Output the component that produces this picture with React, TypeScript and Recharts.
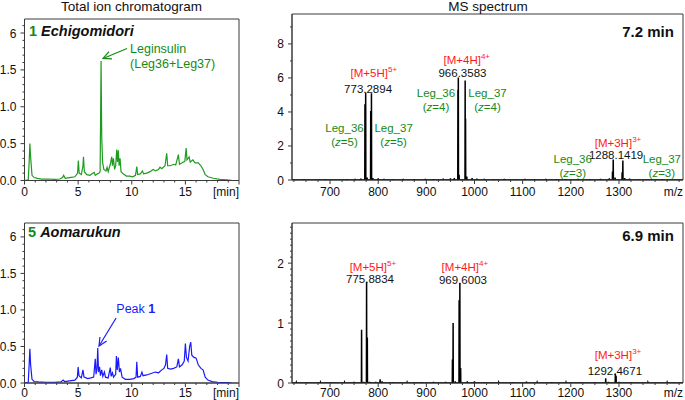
import React from 'react';
import { LineChart, Line, XAxis, YAxis, ReferenceArea, ReferenceDot, ReferenceLine } from 'recharts';

const FONT = '"Liberation Sans", Arial, Helvetica, sans-serif';
const AXIS = '#3a3a3a';
const GREEN_LINE = '#1f9b1f';
const GREEN_TEXT = '#168a16';
const BLUE = '#1a1aff';
const RED = '#ff1a1a';
const INK = '#111';

// ---------- Total ion chromatograms: [time (min), intensity] ----------
const ticEchigomidori: [number, number][] = [
  [0, 0], [0.35, 0.01], [0.45, 0.3], [0.5, 0.5], [0.58, 0.3], [0.7, 0.07], [0.9, 0.04], [1.2, 0.03],
  [1.6, 0.02], [2.2, 0.02], [2.8, 0.015], [3.3, 0.02], [3.55, 0.04], [3.65, 0.07], [3.8, 0.03],
  [4.2, 0.04], [4.7, 0.05], [4.95, 0.1], [5.02, 0.27], [5.1, 0.1], [5.3, 0.08], [5.45, 0.2],
  [5.5, 0.32], [5.58, 0.12], [5.8, 0.08], [6.1, 0.07], [6.3, 0.09], [6.5, 0.11], [6.6, 0.07],
  [6.8, 0.09], [6.95, 0.1], [7.05, 0.12], [7.14, 1.62], [7.2, 0.6], [7.28, 0.25], [7.4, 0.15],
  [7.6, 0.13], [7.7, 0.18], [7.8, 0.12], [8.0, 0.22], [8.13, 0.32], [8.2, 0.2], [8.29, 0.3],
  [8.4, 0.15], [8.5, 0.2], [8.6, 0.42], [8.67, 0.25], [8.75, 0.41], [8.82, 0.2], [8.91, 0.3],
  [9.0, 0.12], [9.2, 0.09], [9.5, 0.06], [9.8, 0.06], [10.1, 0.05], [10.35, 0.07], [10.47, 0.19],
  [10.55, 0.08], [10.8, 0.09], [11.0, 0.13], [11.1, 0.09], [11.4, 0.1], [11.7, 0.12], [12.0, 0.15],
  [12.2, 0.13], [12.5, 0.15], [12.64, 0.18], [12.8, 0.16], [13.1, 0.2], [13.26, 0.37], [13.35, 0.2],
  [13.6, 0.2], [13.9, 0.22], [14.1, 0.21], [14.35, 0.35], [14.45, 0.22], [14.7, 0.24], [14.95, 0.26],
  [15.07, 0.44], [15.15, 0.28], [15.35, 0.32], [15.45, 0.25], [15.7, 0.28], [15.9, 0.24], [16.2, 0.24],
  [16.45, 0.2], [16.65, 0.15], [16.85, 0.08], [17.1, 0.05], [17.6, 0.03], [18.2, 0.015], [18.9, 0.01],
  [19.4, 0],
];

const ticAomarukun: [number, number][] = [
  [0, 0], [0.35, 0.01], [0.45, 0.3], [0.5, 0.47], [0.57, 0.25], [0.7, 0.05], [0.9, 0.02], [1.3, 0.015],
  [2.0, 0.01], [2.8, 0.01], [3.4, 0.015], [3.6, 0.04], [3.75, 0.02], [4.2, 0.03], [4.7, 0.04],
  [4.93, 0.08], [5.0, 0.22], [5.08, 0.1], [5.3, 0.07], [5.45, 0.18], [5.55, 0.08], [5.9, 0.06],
  [6.2, 0.07], [6.45, 0.08], [6.6, 0.33], [6.67, 0.12], [6.76, 0.2], [6.83, 0.48], [6.9, 0.15],
  [7.0, 0.22], [7.08, 0.1], [7.2, 0.18], [7.3, 0.09], [7.45, 0.15], [7.55, 0.08], [7.8, 0.07],
  [8.0, 0.21], [8.08, 0.09], [8.2, 0.14], [8.3, 0.08], [8.5, 0.12], [8.57, 0.37], [8.65, 0.18],
  [8.75, 0.35], [8.85, 0.15], [8.95, 0.2], [9.1, 0.08], [9.4, 0.05], [9.8, 0.05], [10.2, 0.06],
  [10.4, 0.08], [10.47, 0.29], [10.55, 0.08], [10.8, 0.09], [10.95, 0.15], [11.05, 0.1], [11.4, 0.11],
  [11.8, 0.13], [12.2, 0.15], [12.5, 0.14], [12.8, 0.18], [13.0, 0.2], [13.15, 0.25], [13.26, 0.39],
  [13.35, 0.2], [13.6, 0.19], [13.9, 0.2], [14.2, 0.22], [14.35, 0.33], [14.45, 0.22], [14.7, 0.25],
  [14.9, 0.3], [15.0, 0.54], [15.1, 0.35], [15.25, 0.3], [15.4, 0.5], [15.5, 0.56], [15.6, 0.38],
  [15.8, 0.35], [16.0, 0.34], [16.2, 0.25], [16.45, 0.2], [16.65, 0.18], [16.85, 0.08], [17.1, 0.04],
  [17.5, 0.02], [18.0, 0.01], [18.8, 0.005], [19.3, 0],
];

const ticXMajor = [0, 5, 10, 15, 20];
const ticXLabels = ['0', '5', '10', '15', '[min]'];
const ticXMinor = [1, 2, 3, 4, 6, 7, 8, 9, 11, 12, 13, 14, 16, 17, 18, 19];
const ticYMajor = [0, 0.5, 1.0, 1.5, 2.0];
const ticYLabels = ['0.0', '0.5', '1.0', '1.5', '6'];
const ticYMinor = [0.1, 0.2, 0.3, 0.4, 0.6, 0.7, 0.8, 0.9, 1.1, 1.2, 1.3, 1.4, 1.6, 1.7, 1.8, 1.9, 2.1];

// ---------- MS spectra: m/z and intensity ----------
const msTopMz = [628, 645, 668, 690, 712, 735, 752, 764, 772.5, 774.0, 777, 784.5, 786.0, 789, 800, 812, 830, 852, 875, 898, 915, 935, 950, 958, 965.6, 966.4, 968, 980.6, 981.4, 984, 995, 1005, 1020, 1040, 1062, 1085, 1105, 1125, 1148, 1170, 1190, 1215, 1240, 1262, 1280, 1286.6, 1288.1, 1292, 1306.6, 1308.1, 1312, 1322, 1340, 1365, 1390, 1415];
const msTopInt = [0.04, 0.05, 0.04, 0.05, 0.04, 0.05, 0.06, 0.08, 4.45, 5.15, 0.15, 4.05, 5.1, 0.12, 0.1, 0.06, 0.05, 0.06, 0.05, 0.07, 0.05, 0.08, 0.1, 0.12, 5.3, 6.02, 0.3, 5.85, 3.6, 0.2, 0.12, 0.08, 0.06, 0.05, 0.06, 0.05, 0.06, 0.05, 0.06, 0.05, 0.05, 0.06, 0.05, 0.07, 0.1, 0.5, 1.2, 0.15, 0.45, 1.15, 0.12, 0.08, 0.05, 0.04, 0.05, 0.04];

const msBottomMz = [630, 655, 680, 705, 730, 750, 765.5, 770, 775.9, 777.4, 782, 795, 804, 808, 830, 860, 890, 915, 940, 954.2, 955.6, 960, 968.1, 969.6, 971.2, 985, 1000, 1020, 1050, 1080, 1108, 1130, 1160, 1190, 1220, 1250, 1272.5, 1278, 1292.5, 1294, 1300, 1325, 1360, 1400];
const msBottomInt = [0.01, 0.015, 0.01, 0.015, 0.01, 0.02, 0.89, 0.02, 1.69, 0.76, 0.02, 0.02, 0.06, 0.03, 0.015, 0.01, 0.015, 0.02, 0.02, 0.39, 1.0, 0.03, 1.38, 1.67, 0.25, 0.03, 0.03, 0.015, 0.01, 0.015, 0.025, 0.01, 0.015, 0.01, 0.015, 0.015, 0.08, 0.02, 0.16, 0.12, 0.02, 0.015, 0.01, 0.01];

const msXMajor = [700, 800, 900, 1000, 1100, 1200, 1300];
const msXLabels = ['700', '800', '900', '1000', '1100', '1200', '1300'];
const msXMinor = [625, 650, 675, 725, 750, 775, 825, 850, 875, 925, 950, 975, 1025, 1050, 1075, 1125, 1150, 1175, 1225, 1250, 1275, 1325, 1350, 1375, 1400, 1425];
const msTopYMajor = [0, 2, 4, 6, 8];
const msTopYLabels = ['0', '2', '4', '6', '8'];
const msTopYMinor = [1, 3, 5, 7, 9];
const msBottomYMajor = [0, 1, 2];
const msBottomYLabels = ['0', '1', '2'];
const msBottomYMinor = [0.1, 0.2, 0.3, 0.4, 0.5, 0.6, 0.7, 0.8, 0.9, 1.1, 1.2, 1.3, 1.4, 1.5, 1.6, 1.7, 1.8, 1.9, 2.1, 2.2, 2.3, 2.4, 2.5, 2.6];

// ---------- annotations (anchored in data coordinates) ----------
const msTopIons = [
  { label: '[M+5H]', charge: '5+', mz: 791, y: 6.06 },
  { label: '[M+4H]', charge: '4+', mz: 984, y: 6.82 },
  { label: '[M+3H]', charge: '3+', mz: 1298, y: 1.96 },
];
const msTopMasses = [
  { text: '773.2894', mz: 779, y: 5.12 },
  { text: '966.3583', mz: 975, y: 6.06 },
  { text: '1288.1419', mz: 1294, y: 1.22 },
];
const msTopLegs = [
  { name: 'Leg_36', z: '5', mz: 730, y: 2.84 },
  { name: 'Leg_37', z: '5', mz: 832, y: 2.84 },
  { name: 'Leg_36', z: '4', mz: 920, y: 4.9 },
  { name: 'Leg_37', z: '4', mz: 1027, y: 4.9 },
  { name: 'Leg_36', z: '3', mz: 1204, y: 1.02 },
  { name: 'Leg_37', z: '3', mz: 1389, y: 1.02 },
];
const msBottomIons = [
  { label: '[M+5H]', charge: '5+', mz: 789, y: 1.87 },
  { label: '[M+4H]', charge: '4+', mz: 980, y: 1.87 },
  { label: '[M+3H]', charge: '3+', mz: 1298, y: 0.395 },
];
const msBottomMasses = [
  { text: '775.8834', mz: 783, y: 1.67 },
  { text: '969.6003', mz: 976, y: 1.645 },
  { text: '1292.4671', mz: 1291.5, y: 0.133 },
];

const MS_DOMAIN: [number, number] = [621, 1433];

function stickData(mz: number[], inten: number[]) {
  const pts: { mz: number; y: number }[] = [{ mz: MS_DOMAIN[0], y: 0 }];
  mz.forEach((m, i) => {
    pts.push({ mz: m - 0.35, y: 0 }, { mz: m, y: inten[i] }, { mz: m + 0.35, y: 0 });
  });
  pts.push({ mz: MS_DOMAIN[1], y: 0 });
  return pts;
}

const near = (a: number, b: number) => Math.abs(a - b) < 1e-6;
const TICK_FONT = 12;

function makeXTick(majors: number[], labels: string[], dy: number, unit?: { at: number; text: string }) {
  return (props: any) => {
    const { x, y, payload } = props;
    const v = payload.value;
    if (unit && near(v, unit.at) && majors.findIndex((m) => near(m, v)) < 0) {
      return (
        <text x={x} y={y + dy} textAnchor="end" fontSize={TICK_FONT} fontFamily={FONT} fill={INK}>
          {unit.text}
        </text>
      );
    }
    const idx = majors.findIndex((m) => near(m, v));
    const major = idx >= 0;
    const isLast = major && idx === majors.length - 1 && isNaN(Number(labels[idx]));
    return (
      <g>
        <line x1={x} x2={x} y1={y} y2={y + (major ? 4 : 2)} stroke={AXIS} strokeWidth={1} />
        {major && (
          <text x={x} y={y + dy} textAnchor={isLast ? 'end' : 'middle'} fontSize={TICK_FONT} fontFamily={FONT} fill={INK}>
            {labels[idx]}
          </text>
        )}
      </g>
    );
  };
}

function makeYTick(majors: number[], labels: string[]) {
  return (props: any) => {
    const { x, y, payload } = props;
    const idx = majors.findIndex((m) => near(m, payload.value));
    const major = idx >= 0;
    return (
      <g>
        <line x1={x} x2={x - (major ? 4 : 2)} y1={y} y2={y} stroke={AXIS} strokeWidth={1} />
        {major && (
          <text x={x - 8} y={y + 4.5} textAnchor="end" fontSize={TICK_FONT} fontFamily={FONT} fill={INK}>
            {labels[idx]}
          </text>
        )}
      </g>
    );
  };
}

function note(key: string, x: number, y: number, draw: (cx: number, cy: number) => React.ReactElement) {
  return (
    <ReferenceDot key={key} x={x} y={y} r={1} ifOverflow="visible" shape={(p: any) => draw(p.cx, p.cy)} />
  );
}

function arrow(key: string, from: { x: number; y: number }, to: { x: number; y: number }, color: string) {
  return (
    <ReferenceLine
      key={key}
      segment={[from, to]}
      ifOverflow="visible"
      stroke={color}
      strokeWidth={1.2}
      shape={(p: any) => {
        const { x1, y1, x2, y2 } = p;
        const a = Math.atan2(y2 - y1, x2 - x1);
        const L = 9;
        const w = 0.45;
        const ax = x2 - L * Math.cos(a - w);
        const ay = y2 - L * Math.sin(a - w);
        const bx = x2 - L * Math.cos(a + w);
        const by = y2 - L * Math.sin(a + w);
        return (
          <g>
            <line x1={x1} y1={y1} x2={x2} y2={y2} stroke={color} strokeWidth={1.2} />
            <path d={`M${ax},${ay} L${x2},${y2} L${bx},${by}`} fill="none" stroke={color} strokeWidth={1.2} />
          </g>
        );
      }}
    />
  );
}

const textBase = { fontFamily: FONT } as const;

function ionNote(key: string, n: { label: string; charge: string; mz: number; y: number }) {
  return note(key, n.mz, n.y, (cx, cy) => (
    <text x={cx} y={cy} textAnchor="middle" fontSize={11.5} fill={RED} {...textBase}>
      {n.label}
      <tspan fontSize={8} dy={-5}>{n.charge}</tspan>
    </text>
  ));
}
function massNote(key: string, n: { text: string; mz: number; y: number }) {
  return note(key, n.mz, n.y, (cx, cy) => (
    <text x={cx} y={cy} textAnchor="middle" fontSize={11.5} fill={INK} {...textBase}>
      {n.text}
    </text>
  ));
}
function legNote(key: string, n: { name: string; z: string; mz: number; y: number }) {
  return note(key, n.mz, n.y, (cx, cy) => (
    <g>
      <text x={cx} y={cy} textAnchor="middle" fontSize={11.5} fill={GREEN_TEXT} {...textBase}>
        {n.name}
      </text>
      <text x={cx} y={cy + 14.5} textAnchor="middle" fontSize={11.5} fill={GREEN_TEXT} {...textBase}>
        (<tspan fontStyle="italic">z</tspan>={n.z})
      </text>
    </g>
  ));
}

const ticData1 = ticEchigomidori.map(([t, v]) => ({ t, v }));
const ticData5 = ticAomarukun.map(([t, v]) => ({ t, v }));
const msData1 = stickData(msTopMz, msTopInt);
const msData5 = stickData(msBottomMz, msBottomInt);

const TIC_YMAX = 2.19;

function TicPanel(props: {
  data: { t: number; v: number }[];
  color: string;
  top: number;
  axisH: number;
  dy: number;
  extra: React.ReactNode[];
}) {
  const { data, color, top, axisH, dy, extra } = props;
  return (
    <LineChart width={250} height={200} data={data} margin={{ top, right: 11, bottom: 0, left: 0 }} style={{ overflow: 'visible' }}>
      <XAxis
        dataKey="t"
        type="number"
        domain={[0, 20]}
        allowDataOverflow
        ticks={[...ticXMajor, ...ticXMinor]}
        interval={0}
        tickSize={0}
        tickMargin={0}
        tickLine={false}
        tick={makeXTick(ticXMajor, ticXLabels, dy)}
        height={axisH}
        stroke={AXIS}
      />
      <YAxis
        type="number"
        domain={[0, TIC_YMAX]}
        allowDataOverflow
        ticks={[...ticYMajor, ...ticYMinor]}
        interval={0}
        tickSize={0}
        tickMargin={0}
        tickLine={false}
        tick={makeYTick(ticYMajor, ticYLabels)}
        width={24.5}
        stroke={AXIS}
      />
      <ReferenceArea x1={0} x2={20} y1={0} y2={TIC_YMAX} fill="none" stroke={AXIS} strokeWidth={1} ifOverflow="visible" />
      <Line dataKey="v" type="linear" stroke={color} strokeWidth={1.2} dot={false} isAnimationActive={false} />
      {extra}
    </LineChart>
  );
}

function MsPanel(props: {
  data: { mz: number; y: number }[];
  top: number;
  axisH: number;
  dy: number;
  ymax: number;
  yMajor: number[];
  yLabels: string[];
  yMinor: number[];
  extra: React.ReactNode[];
}) {
  const { data, top, axisH, dy, ymax, yMajor, yLabels, yMinor, extra } = props;
  return (
    <LineChart width={435} height={200} data={data} margin={{ top, right: 2, bottom: 0, left: 0 }} style={{ overflow: 'visible' }}>
      <XAxis
        dataKey="mz"
        type="number"
        domain={MS_DOMAIN}
        allowDataOverflow
        ticks={[...msXMajor, ...msXMinor, MS_DOMAIN[1]]}
        interval={0}
        tickSize={0}
        tickMargin={0}
        tickLine={false}
        tick={makeXTick(msXMajor, msXLabels, dy, { at: MS_DOMAIN[1], text: 'm/z' })}
        height={axisH}
        stroke={AXIS}
      />
      <YAxis
        type="number"
        domain={[0, ymax]}
        allowDataOverflow
        ticks={[...yMajor, ...yMinor]}
        interval={0}
        tickSize={0}
        tickMargin={0}
        tickLine={false}
        tick={makeYTick(yMajor, yLabels)}
        width={42}
        stroke={AXIS}
      />
      <ReferenceArea x1={MS_DOMAIN[0]} x2={MS_DOMAIN[1]} y1={0} y2={ymax} fill="none" stroke={AXIS} strokeWidth={1} ifOverflow="visible" />
      <Line dataKey="y" type="linear" stroke="#000" strokeWidth={1.5} dot={false} isAnimationActive={false} />
      {extra}
    </LineChart>
  );
}

export default function App() {
  const ticTopExtra = [
    note('lab1', 0.42, 1.966, (cx, cy) => (
      <text x={cx} y={cy} fontSize={14.5} fontWeight="bold" fill={INK} {...textBase}>
        <tspan fill={GREEN_TEXT}>1</tspan> <tspan fontStyle="italic">Echigomidori</tspan>
      </text>
    )),
    note('legins', 9.84, 1.723, (cx, cy) => (
      <g>
        <text x={cx} y={cy} fontSize={12.5} fill={GREEN_TEXT} {...textBase}>Leginsulin</text>
        <text x={cx} y={cy + 15} fontSize={12.5} fill={GREEN_TEXT} {...textBase}>(Leg36+Leg37)</text>
      </g>
    )),
    arrow('arr1', { x: 9.56, y: 1.79 }, { x: 7.32, y: 1.655 }, GREEN_TEXT),
  ];
  const ticBottomExtra = [
    note('lab5', 0.33, 2.0, (cx, cy) => (
      <text x={cx} y={cy} fontSize={14.5} fontWeight="bold" fill={INK} {...textBase}>
        <tspan fill={GREEN_TEXT}>5</tspan> <tspan fontStyle="italic">Aomarukun</tspan>
      </text>
    )),
    note('peak1', 8.56, 0.955, (cx, cy) => (
      <text x={cx} y={cy} fontSize={12.5} fill={BLUE} {...textBase}>
        Peak <tspan fontWeight="bold">1</tspan>
      </text>
    )),
    arrow('arr5', { x: 8.54, y: 0.89 }, { x: 6.95, y: 0.507 }, BLUE),
  ];
  const msTopExtra = [
    note('t72', 1414, 8.41, (cx, cy) => (
      <text x={cx} y={cy} textAnchor="end" fontSize={15} fontWeight="bold" fill={INK} {...textBase}>7.2 min</text>
    )),
    ...msTopIons.map((n, i) => ionNote('ti' + i, n)),
    ...msTopMasses.map((n, i) => massNote('tm' + i, n)),
    ...msTopLegs.map((n, i) => legNote('tl' + i, n)),
  ];
  const msBottomExtra = [
    note('t69', 1414, 2.37, (cx, cy) => (
      <text x={cx} y={cy} textAnchor="end" fontSize={15} fontWeight="bold" fill={INK} {...textBase}>6.9 min</text>
    )),
    ...msBottomIons.map((n, i) => ionNote('bi' + i, n)),
    ...msBottomMasses.map((n, i) => massNote('bm' + i, n)),
  ];

  return (
    <div style={{ position: 'absolute', left: 0, top: 0, width: 685, height: 400, background: '#fff', overflow: 'hidden' }}>
      <div style={{ position: 'absolute', left: 0, top: 0 }}>
        <TicPanel data={ticData1} color={GREEN_LINE} top={19} axisH={19.5} dy={15.5} extra={ticTopExtra} />
      </div>
      <div style={{ position: 'absolute', left: 0, top: 200 }}>
        <TicPanel data={ticData5} color={BLUE} top={23} axisH={17} dy={14} extra={ticBottomExtra} />
      </div>
      <div style={{ position: 'absolute', left: 250, top: 0 }}>
        <MsPanel data={msData1} top={14} axisH={20} dy={15.5} ymax={9.76} yMajor={msTopYMajor} yLabels={msTopYLabels} yMinor={msTopYMinor} extra={msTopExtra} />
      </div>
      <div style={{ position: 'absolute', left: 250, top: 200 }}>
        <MsPanel data={msData5} top={23} axisH={17} dy={14} ymax={2.67} yMajor={msBottomYMajor} yLabels={msBottomYLabels} yMinor={msBottomYMinor} extra={msBottomExtra} />
      </div>
      <svg width={685} height={16} style={{ position: 'absolute', left: 0, top: 0, pointerEvents: 'none' }}>
        <text x={131.5} y={10.5} textAnchor="middle" fontSize={13.5} fill={INK} fontFamily={FONT}>Total ion chromatogram</text>
        <text x={488} y={10.5} textAnchor="middle" fontSize={13.5} fill={INK} fontFamily={FONT}>MS spectrum</text>
      </svg>
    </div>
  );
}
